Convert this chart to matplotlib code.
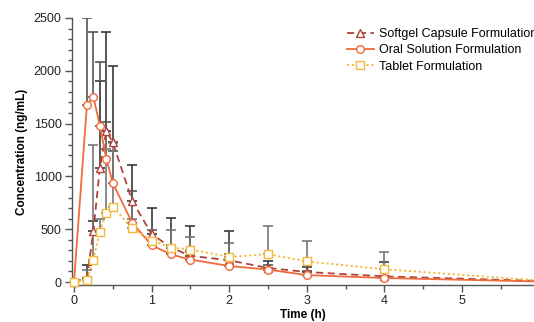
import matplotlib
matplotlib.use("Agg")
import matplotlib.pyplot as plt
from matplotlib.ticker import MultipleLocator
import numpy as np

plt.rcParams['font.family'] = ['Liberation Sans', 'DejaVu Sans']

time_h = [0, 0.167, 0.25, 0.333, 0.417, 0.5, 0.75, 1, 1.25, 1.5, 2, 2.5, 3, 4, 6]

softgel = [0, 41, 482, 1079, 1428, 1323, 768, 455, 327, 248, 206, 133, 95, 54, 10]
softgel_up = [0, 159, 580, 1904, 2364, 2046, 1104, 704, 609, 533, 482, 197, 140, 194, 20]

oral = [0, 1681, 1754, 1482, 1168, 936, 562, 349, 261, 213, 152, 118, 66, 38, 5]
oral_up = [0, 2500, 2364, 2088, 1513, 1237, 866, 492, 350, 280, 270, 160, 100, 60, 10]

tablet = [0, 20, 213, 476, 657, 714, 508, 393, 327, 308, 238, 264, 195, 121, 15]
tablet_up = [0, 110, 1300, 600, 1263, 1317, 600, 492, 492, 428, 371, 533, 390, 289, 30]

series = [
    ("Softgel Capsule Formulation", softgel, softgel_up, "#B0443A", "^", (0, (4, 2.5)), "#3a3a3a"),
    ("Oral Solution Formulation", oral, oral_up, "#EF6A3C", "o", "-", "#555555"),
    ("Tablet Formulation", tablet, tablet_up, "#F5B73A", "s", (0, (1.2, 1.5)), "#777777"),
]

fig = plt.figure(figsize=(5.34, 3.22), dpi=100)
ax = fig.add_axes([0.1348, 0.1149, 0.8652, 0.8292])

for name, vals, up, col, mk, ls, ecol in series:
    vals = np.array(vals)
    err = np.array(up) - vals
    ax.errorbar(time_h, vals, yerr=[np.zeros_like(err), err], fmt='none',
                ecolor=ecol, elinewidth=1.2, capsize=3.5, capthick=1.2, zorder=1)

handles = []
for name, vals, up, col, mk, ls, ecol in series:
    h, = ax.plot(time_h, vals, color=col, linestyle=ls, linewidth=1.3, marker=mk,
                 markersize=5.5, markerfacecolor='white', markeredgecolor=col,
                 markeredgewidth=1.0, label=name, zorder=3, clip_on=False)
    handles.append(h)

ax.set_xlim(-0.026, 5.93)
ax.set_ylim(-28, 2500)
ax.xaxis.set_major_locator(MultipleLocator(1))
ax.xaxis.set_minor_locator(MultipleLocator(0.5))
ax.yaxis.set_major_locator(MultipleLocator(500))
ax.yaxis.set_minor_locator(MultipleLocator(100))
ax.set_xticks(range(0, 6))

for s in ['top', 'right']:
    ax.spines[s].set_visible(False)
for s in ['left', 'bottom']:
    ax.spines[s].set_color('#555555')
    ax.spines[s].set_linewidth(1.0)

ax.tick_params(which='major', direction='out', length=5, width=1, color='#555555',
               labelsize=9, labelcolor='#222222', pad=2.5)
ax.tick_params(which='minor', direction='out', length=3, width=1, color='#555555')

ax.set_xlabel('Time (h)', fontsize=8.5, fontweight='bold', labelpad=1)
ax.set_ylabel('Concentration (ng/mL)', fontsize=8.5, fontweight='bold', labelpad=4)

ax.legend(handles=handles, loc='upper left', bbox_to_anchor=(0.57, 1.005), frameon=False,
          fontsize=9, handlelength=2.2, handletextpad=0.4, labelspacing=0.35)

fig.savefig("out.png", dpi=100)
